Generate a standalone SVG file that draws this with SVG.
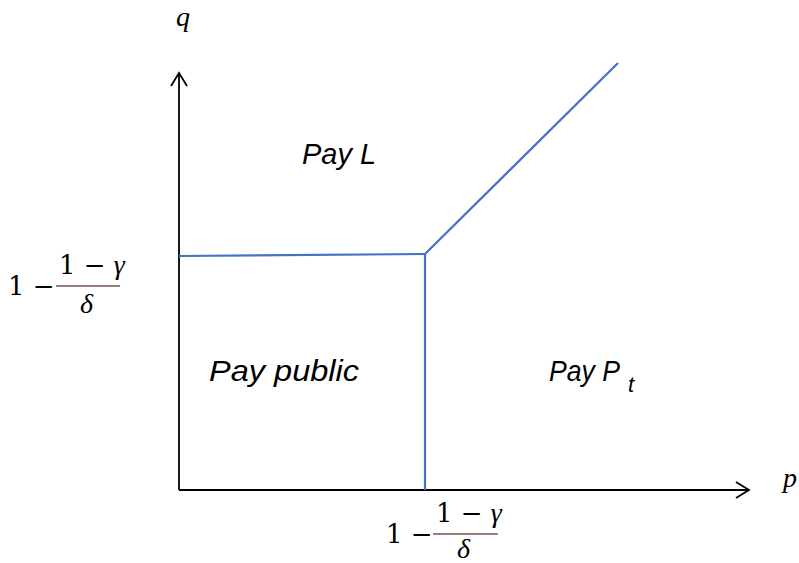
<svg xmlns="http://www.w3.org/2000/svg" width="799" height="563" viewBox="0 0 799 563">
<style>
.axis{stroke:#000;stroke-width:1.8;fill:none}
.blue{stroke:#4472C4;stroke-width:2.2;fill:none}
.lbl{font-family:"Liberation Sans",Arial,sans-serif;font-style:italic;font-size:30px;fill:#000}
.sub{font-family:"Liberation Sans",Arial,sans-serif;font-style:italic;font-size:22px;fill:#000}
.m{font-family:"DejaVu Serif","Liberation Serif",serif;font-size:26px;fill:#000}
.mi{font-family:"Liberation Serif",serif;font-style:italic;font-size:28px;fill:#000}
.bar{stroke:#9c7c7c;stroke-width:1.8}
</style>
<g id="axes">
<line class="axis" x1="179" y1="490" x2="179" y2="74"/>
<polyline class="axis" points="171,86 179,73 187,86"/>
<line class="axis" x1="179" y1="490" x2="748" y2="490"/>
<polyline class="axis" points="736,482 749,490 736,498"/>
</g>
<g id="connectors">
<line class="blue" x1="179" y1="256" x2="425" y2="254"/>
<line class="blue" x1="425" y1="254" x2="425" y2="490"/>
<line class="blue" x1="425" y1="254" x2="618" y2="63"/>
</g>
<g id="axis-labels">
<text class="mi" x="176" y="26">q</text>
<text class="mi" x="783" y="487">p</text>
</g>
<g id="region-L"><text class="lbl" x="302" y="164" textLength="74" lengthAdjust="spacingAndGlyphs">Pay L</text></g>
<g id="region-public"><text class="lbl" x="209" y="381" textLength="150" lengthAdjust="spacingAndGlyphs">Pay public</text></g>
<g id="region-Pt"><text class="lbl" x="549" y="381" textLength="71" lengthAdjust="spacingAndGlyphs">Pay P</text><text class="sub" x="628" y="392">t</text></g>
<g id="q-threshold">
<text class="m" x="8" y="295">1 −</text>
<text class="m" x="59" y="274">1 − <tspan class="mi" font-size="27">γ</tspan></text>
<line class="bar" x1="56" y1="286" x2="120" y2="286"/>
<text class="mi" x="80" y="313">δ</text>
</g>
<g id="p-threshold">
<text class="m" x="386" y="543">1 −</text>
<text class="m" x="436" y="522">1 − <tspan class="mi" font-size="27">γ</tspan></text>
<line class="bar" x1="433" y1="534" x2="498" y2="534"/>
<text class="mi" x="457" y="558">δ</text>
</g>
</svg>
